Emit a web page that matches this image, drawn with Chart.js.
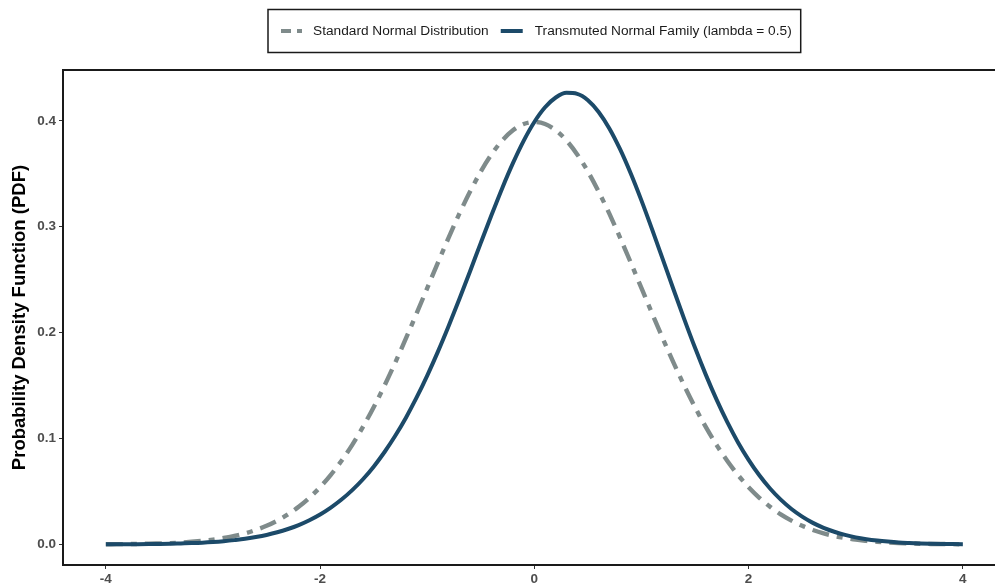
<!DOCTYPE html>
<html>
<head>
<meta charset="utf-8">
<script src="https://cdn.jsdelivr.net/npm/chart.js@4"></script>
<style>
html,body{margin:0;padding:0;background:#fff;}
canvas{display:block;}
</style>
</head>
<body>
<canvas id="c" width="995" height="586"></canvas>
<script>
const xValues = [-4.0,-3.9,-3.8,-3.7,-3.6,-3.5,-3.4,-3.3,-3.2,-3.1,-3.0,-2.9,-2.8,-2.7,-2.6,-2.5,-2.4,-2.3,-2.2,-2.1,-2.0,-1.9,-1.8,-1.7,-1.6,-1.5,-1.4,-1.3,-1.2,-1.1,-1.0,-0.9,-0.8,-0.7,-0.6,-0.5,-0.4,-0.3,-0.2,-0.1,0.0,0.1,0.2,0.3,0.4,0.5,0.6,0.7,0.8,0.9,1.0,1.1,1.2,1.3,1.4,1.5,1.6,1.7,1.8,1.9,2.0,2.1,2.2,2.3,2.4,2.5,2.6,2.7,2.8,2.9,3.0,3.1,3.2,3.3,3.4,3.5,3.6,3.7,3.8,3.9,4.0];

const standardNormal = [0.0001,0.0002,0.0003,0.0004,0.0006,0.0009,0.0012,0.0017,0.0024,0.0033,0.0044,0.0060,0.0079,0.0104,0.0136,0.0175,0.0224,0.0283,0.0355,0.0440,0.0540,0.0656,0.0790,0.0940,0.1109,0.1295,0.1497,0.1714,0.1942,0.2179,0.2420,0.2661,0.2897,0.3123,0.3332,0.3521,0.3683,0.3814,0.3910,0.3970,0.3989,0.3970,0.3910,0.3814,0.3683,0.3521,0.3332,0.3123,0.2897,0.2661,0.2420,0.2179,0.1942,0.1714,0.1497,0.1295,0.1109,0.0940,0.0790,0.0656,0.0540,0.0440,0.0355,0.0283,0.0224,0.0175,0.0136,0.0104,0.0079,0.0060,0.0044,0.0033,0.0024,0.0017,0.0012,0.0009,0.0006,0.0004,0.0003,0.0002,0.0001];

const transmutedNormal = [0.0001,0.0001,0.0001,0.0002,0.0003,0.0004,0.0006,0.0009,0.0012,0.0016,0.0022,0.0030,0.0040,0.0052,0.0069,0.0089,0.0114,0.0145,0.0182,0.0228,0.0282,0.0347,0.0423,0.0512,0.0615,0.0734,0.0870,0.1023,0.1194,0.1385,0.1594,0.1820,0.2062,0.2317,0.2580,0.2847,0.3110,0.3364,0.3600,0.3811,0.3989,0.4128,0.4220,0.4264,0.4255,0.4195,0.4084,0.3928,0.3732,0.3502,0.3246,0.2972,0.2689,0.2405,0.2125,0.1856,0.1603,0.1369,0.1156,0.0965,0.0798,0.0652,0.0527,0.0422,0.0334,0.0262,0.0203,0.0156,0.0119,0.0089,0.0066,0.0049,0.0036,0.0026,0.0018,0.0013,0.0009,0.0006,0.0004,0.0003,0.0002];

const seriesLabels = ['Standard Normal Distribution', 'Transmuted Normal Family (lambda = 0.5)'];
const xTicks = [-4, -2, 0, 2, 4];
const yTicks = [0.0, 0.1, 0.2, 0.3, 0.4];
const yTitle = 'Probability Density Function (PDF)';

const GRAY = '#7f8b8b';
const BLUE = '#1c4a69';
const GRAY_DASH = [17, 8, 6, 8];
const FONT = '"Liberation Sans", Arial, Helvetica, sans-serif';

const toPoints = ys => xValues.map((x, i) => ({x: x, y: ys[i]}));

const panelBorder = {
  id: 'panelBorder',
  afterDraw(chart) {
    const {ctx, chartArea: a} = chart;
    ctx.save();
    ctx.strokeStyle = '#1a1a1a';
    ctx.lineWidth = 2;
    ctx.setLineDash([]);
    ctx.beginPath();
    ctx.moveTo(chart.width + 2, a.top);
    ctx.lineTo(a.left, a.top);
    ctx.lineTo(a.left, a.bottom);
    ctx.lineTo(chart.width + 2, a.bottom);
    ctx.stroke();
    ctx.restore();
  }
};

const boxLegend = {
  id: 'boxLegend',
  afterDraw(chart) {
    const ctx = chart.ctx;
    ctx.save();
    ctx.font = '13.7px ' + FONT;
    ctx.textBaseline = 'middle';
    const cy = 31;
    const left = 268;
    let x = left + 13;
    ctx.strokeStyle = GRAY;
    ctx.lineWidth = 4;
    ctx.lineCap = 'butt';
    ctx.beginPath(); ctx.moveTo(x, cy); ctx.lineTo(x + 10, cy); ctx.stroke();
    ctx.beginPath(); ctx.moveTo(x + 16, cy); ctx.lineTo(x + 21, cy); ctx.stroke();
    x = left + 45;
    ctx.fillStyle = '#1a1a1a';
    ctx.fillText(seriesLabels[0], x, cy);
    x += ctx.measureText(seriesLabels[0]).width + 12;
    ctx.strokeStyle = BLUE;
    ctx.lineWidth = 4;
    ctx.beginPath(); ctx.moveTo(x, cy); ctx.lineTo(x + 22, cy); ctx.stroke();
    x += 34;
    ctx.fillText(seriesLabels[1], x, cy);
    x += ctx.measureText(seriesLabels[1]).width + 9;
    ctx.strokeStyle = '#1a1a1a';
    ctx.lineWidth = 1.5;
    ctx.strokeRect(left, 9.5, x - left, 43);
    ctx.restore();
  }
};

new Chart(document.getElementById('c'), {
  type: 'line',
  data: {
    datasets: [
      {
        label: seriesLabels[1],
        data: toPoints(transmutedNormal),
        borderColor: BLUE,
        borderWidth: 4,
        pointRadius: 0,
        cubicInterpolationMode: 'monotone',
        fill: false,
        order: 0
      },
      {
        label: seriesLabels[0],
        data: toPoints(standardNormal),
        borderColor: GRAY,
        borderWidth: 4.4,
        borderDash: GRAY_DASH,
        pointRadius: 0,
        cubicInterpolationMode: 'monotone',
        fill: false,
        order: 1
      }
    ]
  },
  options: {
    responsive: false,
    animation: false,
    layout: {padding: {top: 70, left: 0, right: 0, bottom: 0}},
    plugins: {legend: {display: false}, tooltip: {enabled: false}},
    scales: {
      x: {
        type: 'linear',
        min: -4.4,
        max: 4.3,
        afterBuildTicks(scale) { scale.ticks = xTicks.map(v => ({value: v})); },
        afterFit(scale) { scale.height = 21; },
        grid: {drawOnChartArea: false, drawTicks: true, tickLength: 4, color: '#333333', lineWidth: 1},
        border: {display: false},
        ticks: {
          color: '#4d4d4d',
          padding: 2,
          font: {family: FONT, size: 13.5, weight: 'bold'},
          maxRotation: 0,
          callback: v => String(v)
        }
      },
      y: {
        type: 'linear',
        min: -0.0195,
        max: 0.448,
        afterBuildTicks(scale) { scale.ticks = yTicks.map(v => ({value: v})); },
        afterFit(scale) { scale.width = 63; },
        grid: {drawOnChartArea: false, drawTicks: true, tickLength: 4, color: '#333333', lineWidth: 1},
        border: {display: false},
        title: {
          display: true,
          text: yTitle,
          color: '#000000',
          font: {family: FONT, size: 18.5, weight: 'bold'},
          padding: {top: 9, bottom: 0}
        },
        ticks: {
          color: '#4d4d4d',
          padding: 3,
          font: {family: FONT, size: 13.5, weight: 'bold'},
          callback: v => v.toFixed(1)
        }
      }
    }
  },
  plugins: [panelBorder, boxLegend]
});
</script>
</body>
</html>
